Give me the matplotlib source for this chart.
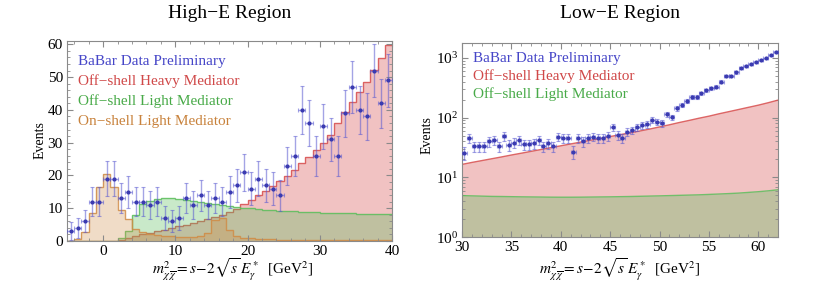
import numpy as np
import matplotlib
matplotlib.use("Agg")
import matplotlib.pyplot as plt
from matplotlib.ticker import MultipleLocator, LogLocator, NullFormatter

plt.rcParams['font.family'] = ['Liberation Serif', 'DejaVu Serif']
plt.rcParams['mathtext.fontset'] = 'stix'

# ---------------- High-E region data ----------------
hi_edges = list(range(-5, 41))          # 1 GeV^2 bins
hi_data_x = [e + 0.5 for e in range(-5, 40)]
hi_data_y = [3, 4, 6, 12, 12, 19, 19, 13, 15, 12, 12, 11, 12, 7, 6, 7, 13, 11, 14, 11,
             13, 12, 15, 17, 21, 16, 19, 17, 16, 14, 23, 26, 40, 36, 26, 35, 31, 26, 39, 47,
             40, 38, 52, 42, 49]
hi_data_err = [2.7, 3.0, 3.4, 4.5, 4.5, 5.4, 5.4, 4.6, 4.9, 4.5, 4.5, 4.3, 4.5, 3.6, 3.4, 3.6,
               4.6, 4.3, 4.7, 4.3, 4.6, 4.5, 4.9, 5.1, 5.6, 5.0, 5.4, 5.1, 5.0, 4.7, 5.8, 6.1,
               7.3, 7.0, 6.1, 6.9, 6.6, 6.1, 7.2, 7.9, 7.3, 7.2, 8.2, 7.5, 8.0]
hi_heavy = [0, 0, 0, 0, 0, 0, 0, 0.3, 1.0, 1.5, 2.0, 2.5, 3.0, 3.5, 4.0, 4.5, 5.0, 5.5, 6.0,
            6.6, 7.3, 8.0, 8.8, 9.8, 11.2, 12.5, 14.0, 15.3, 16.8, 18.4, 19.9, 21.7, 23.7,
            25.7, 27.8, 30.0, 32.3, 36.1, 39.4, 42.5, 45.5, 48.6, 52.1, 55.7, 59.8]
hi_light_off = [0, 0, 0, 0, 0, 0, 0, 0.8, 3.0, 7.9, 11.3, 12.3, 12.7, 13.0, 13.0, 12.8, 12.6,
                12.3, 12.0, 11.7, 11.4, 11.1, 10.8, 10.5, 10.2, 9.95, 9.75, 9.55, 9.4, 9.25,
                9.1, 9.0, 8.9, 8.8, 8.7, 8.6, 8.55, 8.5, 8.45, 8.4, 8.35, 8.3, 8.3, 8.25, 8.25]
hi_light_on = [0, 0.5, 2.8, 8.6, 16.6, 20.5, 16.6, 9.5, 6.6, 3.6, 2.8, 2.2, 1.8, 1.6, 1.4,
               1.3, 1.2, 1.2, 1.5, 2.5, 6.4, 7.0, 3.5, 1.5, 1.0, 0.8, 0.6, 0.5, 0.5, 0.45,
               0.4, 0.4, 0.4, 0.35, 0.35, 0.35, 0.3, 0.3, 0.3, 0.3, 0.3, 0.3, 0.3, 0.3, 0.3]

# ---------------- Low-E region data ----------------
lo_data_x = [30.25 + 0.5 * i for i in range(64)]
lo_data_y = [26, 45, 33, 33, 33, 40, 42, 33, 49, 35, 38, 42, 36, 36, 37, 42, 33, 37, 33, 48,
             46, 45, 27, 45, 40, 45, 48, 46, 45, 49, 70, 51, 45, 58, 62, 70, 75, 78, 91, 85,
             80, 115, 101, 143, 163, 192, 224, 224, 255, 290, 309, 330, 400, 504, 504, 573,
             686, 741, 780, 844, 923, 984, 1119, 1270]
lo_data_err = [6.5, 7.7, 6.8, 6.8, 6.8, 7.3, 7.5, 6.8, 8.0, 6.9, 7.2, 7.5, 7.0, 7.0, 7.1, 7.5,
               6.8, 7.1, 6.8, 7.9, 7.8, 7.7, 6.6, 7.7, 7.3, 7.7, 7.9, 7.8, 7.7, 8.0, 9.4, 8.1,
               7.7, 8.6, 8.9, 9.4, 9.7, 9.8, 10.5, 10.2, 9.9, 11.7, 11.0, 13.0, 13.8, 14.9,
               16.0, 16.0, 17.0, 18.0, 18.6, 19.2, 21.0, 23.4, 23.4, 24.9, 27.2, 28.2, 28.9,
               30.0, 31.4, 32.4, 34.5, 36.6]
lo_model_x = list(range(30, 63))
lo_heavy = [16.5, 17.8, 19.1, 20.5, 22.0, 23.7, 25.4, 27.3, 29.3, 31.5, 33.8, 36.3, 39.0,
            41.9, 45.0, 48.3, 51.9, 55.7, 59.8, 64.5, 70, 76, 83, 90, 98, 106, 116, 126, 137,
            149, 162, 178, 197]
lo_light_off = [4.95, 4.9, 4.85, 4.8, 4.78, 4.75, 4.72, 4.7, 4.68, 4.66, 4.65, 4.65, 4.66,
                4.68, 4.7, 4.72, 4.75, 4.78, 4.82, 4.86, 4.9, 4.95, 5.0, 5.05, 5.1, 5.18,
                5.26, 5.35, 5.45, 5.6, 5.75, 5.95, 6.2]

legend_labels = ["BaBar Data Preliminary", "Off\u2212shell Heavy Mediator",
                 "Off\u2212shell Light Mediator", "On\u2212shell Light Mediator"]

# ---------------- style ----------------
BLUE = '#4646c8'
RED = '#d85050'
GREEN = '#5cbe5c'
ORANGE = '#d08c46'
RED_TXT = '#d04848'
GREEN_TXT = '#48aa48'
ORANGE_TXT = '#c8823c'
GRAY = '#8a8a8a'

fig = plt.figure(figsize=(8.14, 3.02), dpi=100)
axL = fig.add_axes([0.0823, 0.202, 0.3993, 0.662])
axR = fig.add_axes([0.5676, 0.215, 0.3882, 0.6435])


def hist(ax, vals, edges, color, alpha, baseline=0.0):
    ax.stairs(vals, edges, baseline=baseline, fill=True, color=color, alpha=alpha, lw=0)
    ax.stairs(vals, edges, baseline=None, color=color, alpha=0.85, lw=1.0)


def curve(ax, x, vals, color, alpha, baseline):
    ax.fill_between(x, baseline, vals, color=color, alpha=alpha, lw=0)
    ax.plot(x, vals, color=color, alpha=0.85, lw=1.0)


def data(ax, x, y, err, xe):
    ax.errorbar(x, y, yerr=err, xerr=xe, fmt='o', ms=2.0, color='#3a3ab0',
                ecolor=(0.35, 0.35, 0.82, 0.55), elinewidth=1.0, capsize=1.3,
                capthick=0.8, zorder=5)


def style(ax):
    for s in ax.spines.values():
        s.set_color(GRAY)
        s.set_linewidth(0.8)
    ax.tick_params(which='both', direction='in', top=True, right=True, color=GRAY,
                   labelsize=11, pad=3)
    ax.tick_params(which='major', length=4)
    ax.tick_params(which='minor', length=2)


# Left panel
hist(axL, hi_heavy, hi_edges, RED, 0.35)
hist(axL, hi_light_off, hi_edges, GREEN, 0.33)
hist(axL, hi_light_on, hi_edges, ORANGE, 0.30)
data(axL, hi_data_x, hi_data_y, hi_data_err, 0.5)
axL.set_xlim(-5, 40)
axL.set_ylim(0, 61)
axL.xaxis.set_major_locator(MultipleLocator(10))
axL.xaxis.set_minor_locator(MultipleLocator(2))
axL.yaxis.set_major_locator(MultipleLocator(10))
axL.yaxis.set_minor_locator(MultipleLocator(2))
style(axL)

cols = [BLUE, RED_TXT, GREEN_TXT, ORANGE_TXT]
for i, (lab, c) in enumerate(zip(legend_labels, cols)):
    axL.text(0.033, 0.90 - 0.10 * i, lab, color=c, fontsize=11, transform=axL.transAxes,
             va='center', ha='left')

# Right panel
axR.set_yscale('log')
curve(axR, lo_model_x, lo_heavy, RED, 0.35, 1e-3)
curve(axR, lo_model_x, lo_light_off, GREEN, 0.33, 1e-3)
data(axR, lo_data_x, lo_data_y, lo_data_err, 0.25)
axR.set_xlim(30, 62)
axR.set_ylim(1, 1800)
axR.xaxis.set_major_locator(MultipleLocator(5))
axR.xaxis.set_minor_locator(MultipleLocator(1))
axR.yaxis.set_major_locator(LogLocator(base=10, numticks=10))
axR.yaxis.set_minor_locator(LogLocator(base=10, subs=np.arange(2, 10), numticks=10))
axR.yaxis.set_minor_formatter(NullFormatter())
style(axR)

for i, (lab, c) in enumerate(zip(legend_labels[:3], cols[:3])):
    axR.text(0.035, 0.92 - 0.093 * i, lab, color=c, fontsize=11, transform=axR.transAxes,
             va='center', ha='left')

# Titles / labels
fig.text(230 / 814, 1 - 13 / 302, "High\u2212E Region", ha='center', va='center', fontsize=14)
fig.text(620 / 814, 1 - 13 / 302, "Low\u2212E Region", ha='center', va='center', fontsize=14)
xl = r"$m^2_{\chi\,\overline{\chi}} = s\!-\!2\sqrt{s}\,E^*_\gamma$  [GeV$^2$]"
fig.text(233 / 814, 1 - 270 / 302, xl, ha='center', va='center', fontsize=11)
fig.text(620 / 814, 1 - 270 / 302, xl, ha='center', va='center', fontsize=11)
fig.text(40 / 814, 1 - 140 / 302, "Events", rotation=90, ha='center', va='center', fontsize=10)
fig.text(427 / 814, 1 - 135 / 302, "Events", rotation=90, ha='center', va='center', fontsize=10)

fig.savefig("out.png", dpi=100)
